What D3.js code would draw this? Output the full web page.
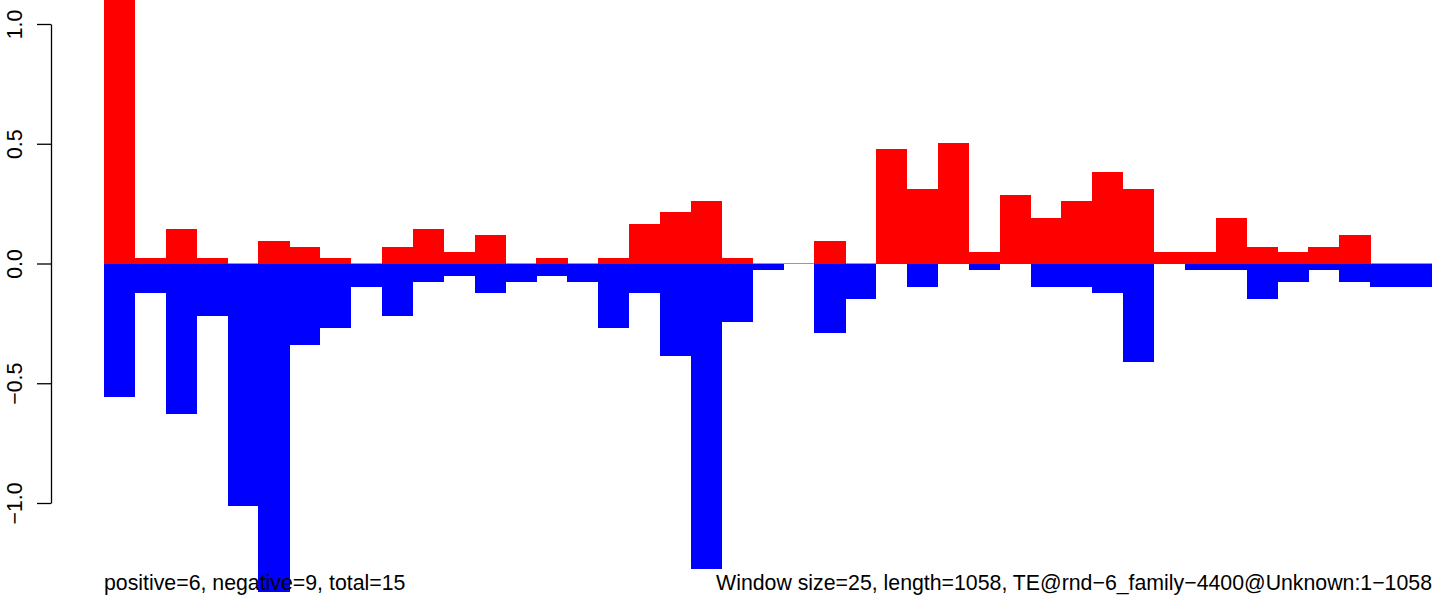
<!DOCTYPE html>
<html lang="en">
    <head>
        <meta charset="UTF-8" />
        <title>TE window profile</title>
        <script src="https://d3js.org/d3.v7.min.js"></script>
        <style>
            body {
                margin: 0;
                background: #fff;
            }
            svg text {
                font-family: 'Liberation Sans', Arial, sans-serif;
                font-size: 21.3px;
                fill: #000;
            }
        </style>
    </head>
    <body>
        <svg width="1433" height="598"></svg>

        <script>
            // window start positions (window size 25, length 1058)
            const windowStarts = [
                0, 25, 50, 75, 100, 125, 150, 175, 200, 225, 250, 275, 300, 325, 350, 375, 400, 425, 450, 475, 500,
                525, 550, 575, 600, 625, 650, 675, 700, 725, 750, 775, 800, 825, 850, 875, 900, 925, 950, 975, 1000,
                1025, 1050,
            ];

            const positiveValues = [
                1.12, 0.023, 0.144, 0.023, 0, 0.095, 0.069, 0.023, 0, 0.069, 0.144, 0.048, 0.119, 0, 0.023, 0, 0.023,
                0.165, 0.215, 0.262, 0.023, 0, 0, 0.094, 0, 0.479, 0.312, 0.504, 0.048, 0.287, 0.19, 0.262, 0.383,
                0.312, 0.048, 0.048, 0.19, 0.069, 0.048, 0.069, 0.119, 0, 0,
            ];

            const negativeValues = [
                -0.557, -0.122, -0.628, -0.218, -1.013, -1.373, -0.34, -0.268, -0.097, -0.218, -0.077, -0.051, -0.122,
                -0.077, -0.051, -0.077, -0.268, -0.122, -0.386, -1.275, -0.243, -0.026, 0, -0.29, -0.147, 0, -0.097,
                0, -0.026, 0, -0.097, -0.097, -0.122, -0.411, 0, -0.026, -0.026, -0.147, -0.077, -0.026, -0.077,
                -0.097, -0.097,
            ];

            const yTicks = [-1, -0.5, 0, 0.5, 1];

            const leftNote = 'positive=6, negative=9, total=15';
            const rightNote = 'Window size=25, length=1058, TE@rnd\u22126_family\u22124400@Unknown:1\u22121058';

            const svg = d3.select('svg');

            const x = d3.scaleBand().domain(windowStarts).range([104, 1432]).padding(0);
            const y = d3.scaleLinear().domain([-1, 1]).range([503, 24]);

            const plot = svg.append('g');

            // zero line
            plot.append('line')
                .attr('x1', x.range()[0])
                .attr('x2', x.range()[1])
                .attr('y1', y(0))
                .attr('y2', y(0))
                .attr('stroke', '#999')
                .attr('stroke-width', 1.2);

            const posData = windowStarts.map((w, i) => ({ w, v: positiveValues[i] })).filter((d) => d.v !== 0);
            const negData = windowStarts.map((w, i) => ({ w, v: negativeValues[i] })).filter((d) => d.v !== 0);

            plot.selectAll('.pos')
                .data(posData)
                .enter()
                .append('rect')
                .attr('class', 'pos')
                .attr('x', (d) => x(d.w))
                .attr('width', x.bandwidth() + 0.3)
                .attr('y', (d) => y(d.v))
                .attr('height', (d) => y(0) - y(d.v))
                .attr('fill', '#ff0000')
                .attr('shape-rendering', 'crispEdges');

            plot.selectAll('.neg')
                .data(negData)
                .enter()
                .append('rect')
                .attr('class', 'neg')
                .attr('x', (d) => x(d.w))
                .attr('width', x.bandwidth() + 0.3)
                .attr('y', y(0))
                .attr('height', (d) => y(d.v) - y(0))
                .attr('fill', '#0000ff')
                .attr('shape-rendering', 'crispEdges');

            // y axis, R style: rotated labels
            svg.append('g')
                .attr('transform', 'translate(51,0)')
                .call(d3.axisLeft(y).tickValues(yTicks).tickSize(14).tickSizeOuter(0).tickFormat(d3.format('.1f')))
                .call((g) => g.selectAll('path, line').attr('stroke', '#000').attr('stroke-width', 1.3))
                .call((g) =>
                    g
                        .selectAll('.tick text')
                        .attr('transform', 'rotate(-90)')
                        .attr('x', 0)
                        .attr('y', -29)
                        .attr('dy', 0)
                        .attr('text-anchor', 'middle')
                        .attr('font-size', null)
                        .attr('font-family', null)
                );

            svg.append('text').attr('x', 104).attr('y', 590).attr('text-anchor', 'start').text(leftNote);
            svg.append('text').attr('x', 1432).attr('y', 590).attr('text-anchor', 'end').text(rightNote);
        </script>
    </body>
</html>
